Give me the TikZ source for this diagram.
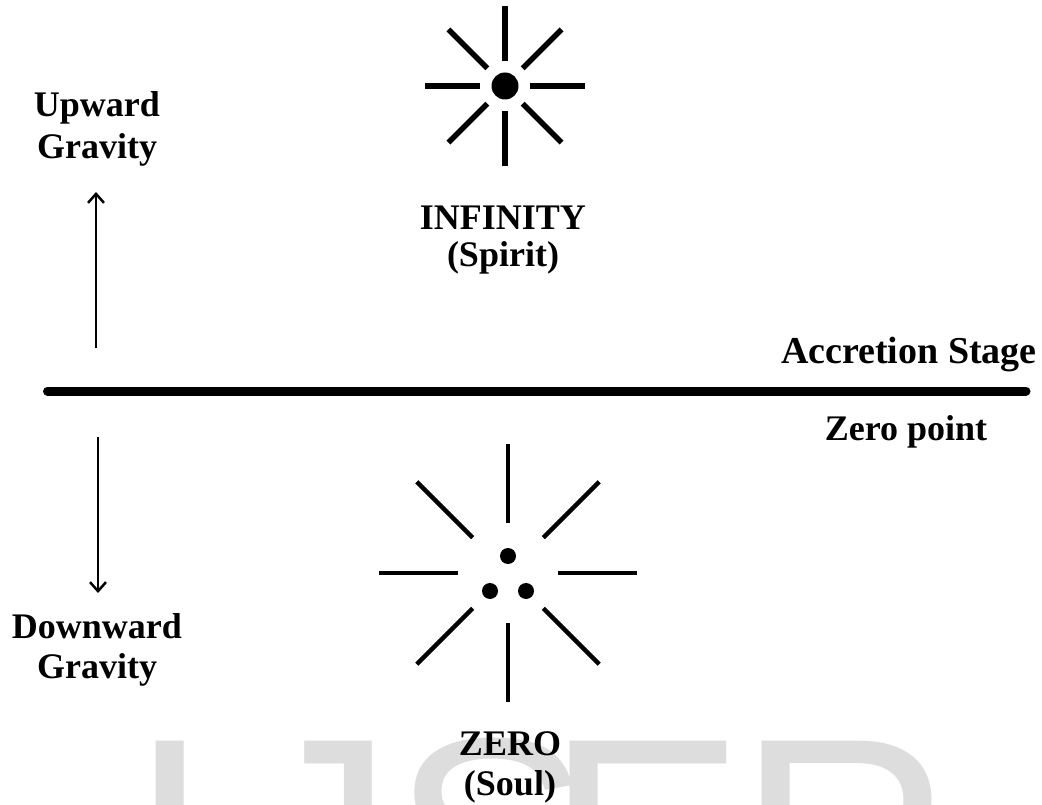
\documentclass[tikz,border=0pt]{standalone}
\usepackage{fontspec}
\setmainfont{Liberation Serif}
\newfontfamily\wmfont{Liberation Sans}
\usetikzlibrary{arrows.meta}
\definecolor{wmgrey}{HTML}{DDDDDD}
\begin{document}
\begin{tikzpicture}[x=1pt,y=-1pt,
  lbl/.style={font=\fontsize{36}{42}\selectfont\bfseries, inner sep=0pt, anchor=base},
  wm/.style={font=\wmfont\fontsize{300}{300}\selectfont, text=wmgrey, inner sep=0pt, anchor=north west},
  bigray/.style={line width=5.5pt},
  smallray/.style={line width=4.5pt},
  dot/.style={circle, fill=black, inner sep=0pt, minimum size=#1},
  grav/.style={line width=2.5pt, -{Straight Barb[length=9pt,width=16pt,line width=2.5pt]}},
  stage/.style={line width=9pt, line cap=round},
]
\useasboundingbox (0,0) rectangle (1042,805);
\fill[white] (0,0) rectangle (1042,805);

% watermark
\node[wm] (wI) at (128,741) {I};
\node[wm] (wJ) at (244,741) {J};
\node[wm] (wS) at (391,738) {S};
\node[wm] (wE) at (545,741) {E};
\node[wm] (wR) at (737,741) {R};

% infinity star
\node[dot=27pt] (inf) at (505,86) {};
\foreach \a in {0,45,...,315}
  \draw[bigray, shift={(inf.center)}] (\a:25) -- (\a:80);

% zero star
\coordinate (zc) at (508,573);
\foreach \a in {0,45,...,315}
  \draw[smallray, shift={(zc)}] (\a:50) -- (\a:129);
\node[dot=16pt] (z1) at (508,556) {};
\node[dot=16pt] (z2) at (490,591) {};
\node[dot=16pt] (z3) at (526,591) {};

% accretion line
\coordinate (lineL) at (47.5,391);
\coordinate (lineR) at (1026,391);
\draw[stage] (lineL) -- (lineR);

% gravity arrows
\coordinate (uS) at (96,348);
\coordinate (uE) at (96,192);
\draw[grav] (uS) -- (uE);
\coordinate (dS) at (98,437);
\coordinate (dE) at (98,593);
\draw[grav] (dS) -- (dE);

% labels
\node[lbl] (up1) at (97,117) {Upward};
\node[lbl] (up2) at (97,159) {Gravity};
\node[lbl] (inf1) at (503,230) {INFINITY};
\node[lbl] (inf2) at (503,266) {(Spirit)};
\node[lbl, font=\fontsize{38}{44}\selectfont\bfseries, anchor=base east] (acc) at (1037,363) {Accretion Stage};
\node[lbl] (zp) at (906,440) {Zero point};
\node[lbl] (dn1) at (97,638) {Downward};
\node[lbl] (dn2) at (97,678) {Gravity};
\node[lbl] (zero1) at (510,755) {ZERO};
\node[lbl] (zero2) at (510,795) {(Soul)};
\end{tikzpicture}
\end{document}
